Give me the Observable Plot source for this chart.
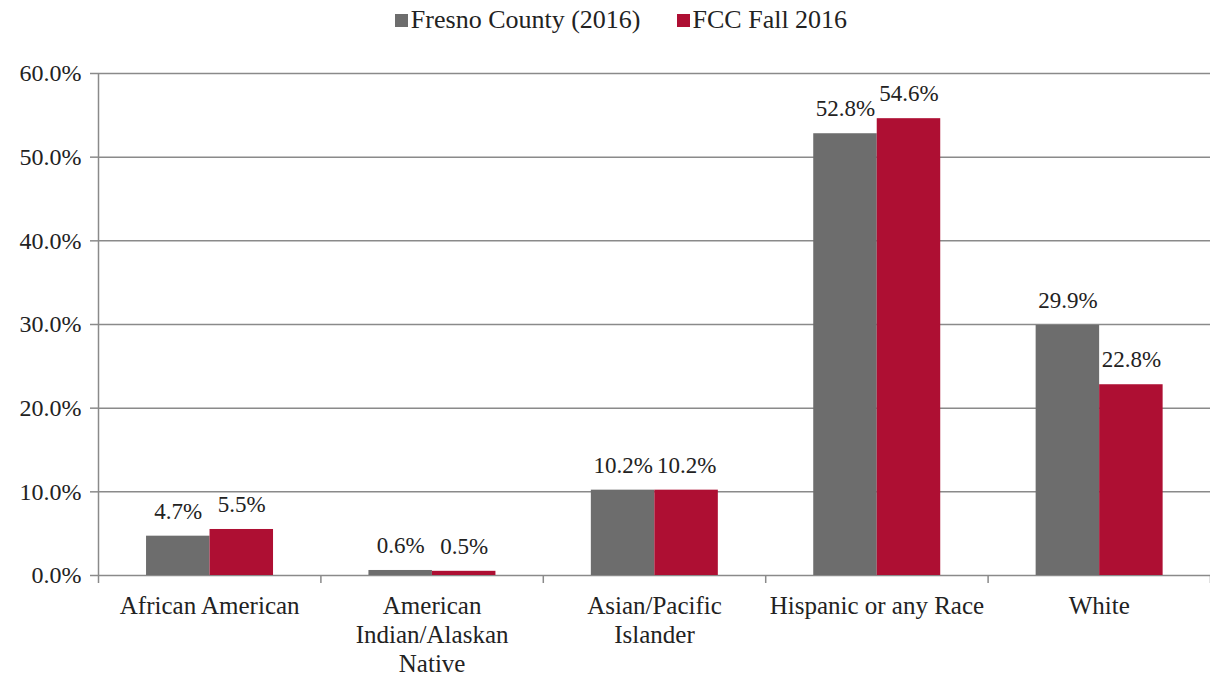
<!DOCTYPE html>
<html>
<head>
<meta charset="utf-8">
<script src="https://cdn.jsdelivr.net/npm/d3@7"></script>
<script src="https://cdn.jsdelivr.net/npm/@observablehq/plot@0.6"></script>
<style>
  body { margin: 0; background: #fff; font-family: "Liberation Serif", serif; }
  #legend { height: 40px; display: flex; justify-content: center; align-items: center; font-size: 26px; color: #222; padding-left: 32px; box-sizing: border-box; }
  .item { display: flex; align-items: center; margin: 0 18px; }
  .sw { width: 13px; height: 13px; margin-right: 3px; display: inline-block; }
  #chart svg, #chart svg text { font-family: "Liberation Serif", serif !important; }
</style>
</head>
<body>
<div id="legend"></div>
<div id="chart"></div>
<script>
const categories = ["African American", "American\nIndian/Alaskan\nNative", "Asian/Pacific\nIslander", "Hispanic or any Race", "White"];
const series = ["Fresno County (2016)", "FCC Fall 2016"];
const fresno = [4.7, 0.6, 10.2, 52.8, 29.9];
const fcc = [5.5, 0.5, 10.2, 54.6, 22.8];
const colors = ["#6d6d6d", "#ae0f33"];
const yTicks = [0, 10, 20, 30, 40, 50, 60];

const legend = document.getElementById("legend");
series.forEach((s, k) => {
  const it = document.createElement("div");
  it.className = "item";
  it.innerHTML = `<span class="sw" style="background:${colors[k]}"></span><span>${s}</span>`;
  legend.appendChild(it);
});

const outer = 0.216, bw = 0.2855;
const rows = [];
categories.forEach((c, i) => {
  [fresno, fcc].forEach((vals, s) => {
    const x1 = i + outer + s * bw;
    rows.push({cat: c, series: series[s], value: vals[i], x1, x2: x1 + bw, xc: x1 + bw / 2});
  });
});

const chart = Plot.plot({
  width: 1210,
  height: 637,
  marginLeft: 98,
  marginRight: 0,
  marginTop: 33,
  marginBottom: 102,
  style: {fontSize: "25px", color: "#222", background: "#fff"},
  x: {domain: [0, categories.length], axis: null},
  y: {domain: [0, 60], axis: null},
  color: {domain: series, range: colors},
  marks: [
    Plot.ruleY(yTicks, {stroke: "#8a8a8a", strokeWidth: 1.5}),
    Plot.axisY({ticks: yTicks, label: null, tickSize: 8, tickPadding: 9, tickFormat: d => d.toFixed(1) + "%", stroke: "#8a8a8a", strokeOpacity: 1, strokeWidth: 1.5, fontSize: 24, fill: "#222"}),
    Plot.axisX({ticks: d3.range(0, categories.length + 1), label: null, tickSize: 8, tickFormat: () => "", stroke: "#8a8a8a", strokeOpacity: 1, strokeWidth: 1.5}),
    Plot.ruleX([0], {stroke: "#8a8a8a", strokeWidth: 1.5}),
    Plot.rectY(rows, {x1: "x1", x2: "x2", y1: 0, y2: "value", fill: "series"}),
    Plot.text(rows, {x: "xc", y: "value", text: d => d.value.toFixed(1) + "%", lineAnchor: "middle", dy: -25, fontSize: 23, fill: "#222"}),
    Plot.text(categories, {x: (d, i) => i + 0.5, y: 0, text: d => d, lineAnchor: "top", dy: 18, lineHeight: 1.16, fontSize: 25, fill: "#222"})
  ]
});
document.getElementById("chart").appendChild(chart);
</script>
</body>
</html>
